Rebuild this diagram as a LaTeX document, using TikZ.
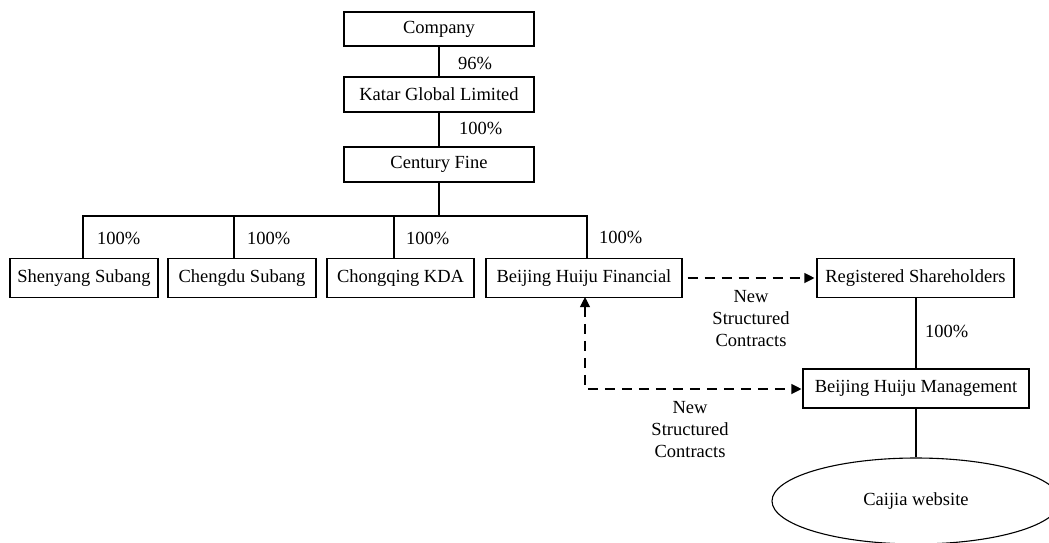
\documentclass[tikz,border=0pt]{standalone}
\usepackage{fontspec}
\setmainfont{Liberation Serif}
\usetikzlibrary{shapes.geometric,arrows.meta,calc}
\begin{document}
\begin{tikzpicture}[x=1pt,y=-1pt,
  every node/.style={font=\fontsize{18.5}{22}\selectfont},
  box/.style={draw,line width=1.1pt,inner sep=0pt,minimum height=#1},
  box/.default=35pt,
  conn/.style={line width=1.1pt},
  dconn/.style={line width=1.1pt,dash pattern=on 10pt off 7pt},
  tip/.style={-{Triangle[length=10pt,width=10pt]}},
  pct/.style={anchor=west,inner sep=0pt},
  note/.style={align=center,inner sep=0pt}]
\useasboundingbox (0,0) rectangle (1049,542);
\clip (0,0) rectangle (1049,542);
% top chain
\node[box=34pt,minimum width=190pt] (comp) at (439,29) {Company};
\node[box,minimum width=190pt] (katar) at (439,94.5) {Katar Global Limited};
\node[box,minimum width=190pt] (cent) at (439,164.5) {Century Fine};
% row
\node[box=39pt,minimum width=148pt] (shen) at (84,278) {Shenyang Subang};
\node[box=39pt,minimum width=148pt] (chen) at (242,278) {Chengdu Subang};
\node[box=39pt,minimum width=147pt] (chon) at (400.5,278) {Chongqing KDA};
\node[box=39pt,minimum width=196pt] (fin) at (584,278) {Beijing Huiju Financial};
\node[box=39pt,minimum width=197pt] (reg) at (915.5,278) {Registered Shareholders};
\node[box=39pt,minimum width=226pt] (man) at (916,388.5) {Beijing Huiju Management};
\node[draw,ellipse,line width=1.1pt,minimum width=288pt,minimum height=86pt,inner sep=0pt] (cai) at (916,501) {Caijia website};
% connectors
\draw[conn] (comp) -- (katar);
\draw[conn] (katar) -- (cent);
\coordinate (bus) at (439,216);
\coordinate (b1) at (83,216);
\coordinate (b2) at (234,216);
\coordinate (b3) at (394,216);
\coordinate (b4) at (587,216);
\draw[conn] (cent) -- (bus);
\draw[conn] (b1 |- shen.north) -- (b1) -- (b4) -- (b4 |- fin.north);
\draw[conn] (b2) -- (b2 |- chen.north);
\draw[conn] (b3) -- (b3 |- chon.north);
\draw[conn] (reg.south -| 916,0) -- (man.north -| 916,0);
\draw[conn] (man.south -| 916,0) -- (cai.north -| 916,0);
% dashed
\draw[dconn,tip] ([xshift=5pt]fin.east) -- ([xshift=-2pt]reg.west);
\coordinate (corner) at (585,389);
\draw[dconn,{Triangle[length=10pt,width=10pt]}-{Triangle[length=10pt,width=10pt]}] ([yshift=1pt]fin.south -| corner) -- (corner) -- ([xshift=-1pt]man.west |- corner);
% labels
\node[pct] at (458,63) {96\%};
\node[pct] at (459,128) {100\%};
\node[pct] at (97,238) {100\%};
\node[pct] at (247,238) {100\%};
\node[pct] at (406,238) {100\%};
\node[pct] at (599,237) {100\%};
\node[pct] at (925,331) {100\%};
\node[note] at (751,319) {New\\Structured\\Contracts};
\node[note] at (690,430) {New\\Structured\\Contracts};
\end{tikzpicture}
\end{document}
